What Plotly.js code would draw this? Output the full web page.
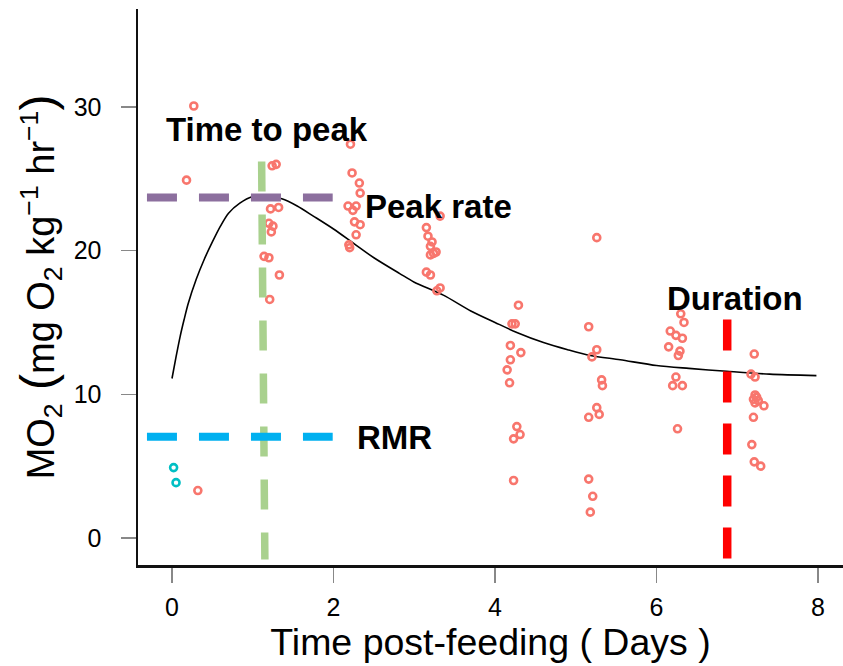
<!DOCTYPE html>
<html>
<head>
<meta charset="utf-8">
<script src="https://cdn.plot.ly/plotly-3.0.1.min.js"></script>
<style>html,body{margin:0;padding:0;background:#fff;}#chart{width:843px;height:666px;}</style>
</head>
<body>
<div id="chart"></div>
<script>
// Fed individuals (salmon points)
const fedX = [0.32, 0.27, 0.18,
  1.24, 1.29, 1.22, 1.32, 1.20, 1.25, 1.23, 1.14, 1.20, 1.33, 1.21,
  2.21, 2.23, 2.32, 2.33, 2.18, 2.28, 2.24, 2.26, 2.33, 2.28, 2.19, 2.20,
  3.32, 3.15, 3.17, 3.22, 3.20, 3.27, 3.20, 3.24, 3.15, 3.20, 3.32, 3.28,
  4.29, 4.21, 4.25, 4.19, 4.32, 4.19, 4.15, 4.18, 4.27, 4.31, 4.23, 4.23,
  5.26, 5.16, 5.26, 5.20, 5.32, 5.33, 5.26, 5.29, 5.16, 5.16, 5.21, 5.18,
  6.30, 6.34, 6.17, 6.24, 6.32, 6.15, 6.29, 6.27, 6.24, 6.20, 6.32, 6.26,
  7.21, 7.17, 7.22, 7.22, 7.24, 7.20, 7.26, 7.22, 7.33, 7.20, 7.18, 7.21, 7.29];
const fedY = [3.3, 30.06, 24.9,
  25.9, 26.0, 22.9, 23.0, 21.9, 21.7, 21.3, 19.6, 19.5, 18.3, 16.6,
  27.4, 25.4, 24.7, 24.0, 23.1, 23.1, 22.8, 22.0, 21.8, 21.1, 20.4, 20.2,
  22.4, 21.6, 21.0, 20.6, 20.3, 19.9, 19.7, 19.8, 18.5, 18.3, 17.4, 17.2,
  16.2, 14.9, 14.9, 13.4, 12.9, 12.4, 11.7, 10.8, 7.75, 7.2, 6.9, 4.0,
  20.9, 14.7, 13.1, 12.6, 11.0, 10.6, 9.07, 8.6, 8.4, 4.1, 2.9, 1.8,
  15.6, 15.0, 14.4, 14.1, 13.9, 13.3, 13.0, 12.7, 11.2, 10.6, 10.6, 7.6,
  12.8, 11.4, 11.2, 9.95, 9.8, 9.65, 9.55, 9.4, 9.2, 8.4, 6.5, 5.3, 5.0];
// Unfed / baseline points (teal)
const baseX = [0.02, 0.05];
const baseY = [4.9, 3.85];
// Fitted SDA curve
const curveX = [0, 0.05, 0.1, 0.15, 0.2, 0.3, 0.4, 0.5, 0.6, 0.7, 0.84, 0.99, 1.15, 1.36, 1.55, 1.75, 2.0, 2.25, 2.5, 2.82, 3.0, 3.36, 3.7, 4.0, 4.27, 4.6, 4.9, 5.18, 5.55, 6.0, 6.4, 6.87, 7.4, 7.98];
const curveY = [11.1, 12.6, 14.0, 15.2, 16.3, 18.0, 19.4, 20.6, 21.7, 22.6, 23.3, 23.75, 23.8, 23.6, 23.1, 22.4, 21.5, 20.5, 19.5, 18.4, 17.8, 16.9, 15.8, 15.0, 14.3, 13.6, 13.1, 12.7, 12.4, 12.0, 11.8, 11.6, 11.4, 11.3];
// Reference values
const peakRate = 23.7;
const rmr = 7.05;
const timeToPeakTop = 1.11;
const timeToPeakBottom = 1.15;
const duration = 6.875;
const hLineStart = -0.31, hLineEnd = 1.99;
const ttpTopY = 26.2, vLineBottomY = -1.5;
const durTopY = 15.2;
const xTicks = [0, 2, 4, 6, 8];
const yTicks = [0, 10, 20, 30];

const FONT = "Liberation Sans, Arial, sans-serif";

const traces = [
  {x: curveX, y: curveY, type: 'scatter', mode: 'lines', line: {color: '#000', width: 1.6, shape: 'spline', smoothing: 0.8}, hoverinfo: 'skip'},
  {x: fedX, y: fedY, type: 'scatter', mode: 'markers', marker: {symbol: 'circle-open', size: 7, color: '#F8766D', line: {color: '#F8766D', width: 2.6}}},
  {x: baseX, y: baseY, type: 'scatter', mode: 'markers', marker: {symbol: 'circle-open', size: 7, color: '#00BFC4', line: {color: '#00BFC4', width: 2.6}}}
];

const shapes = [
  {type: 'line', xref: 'x', yref: 'y', x0: timeToPeakTop, x1: timeToPeakBottom, y0: ttpTopY, y1: vLineBottomY, line: {color: '#A9D18E', width: 7.5, dash: '30px,23px'}},
  {type: 'line', xref: 'x', yref: 'y', x0: hLineStart, x1: hLineEnd, y0: peakRate, y1: peakRate, line: {color: '#8C6F9E', width: 8, dash: '30px,22px'}},
  {type: 'line', xref: 'x', yref: 'y', x0: hLineStart, x1: hLineEnd, y0: rmr, y1: rmr, line: {color: '#00B0F0', width: 8, dash: '30px,22px'}},
  {type: 'line', xref: 'x', yref: 'y', x0: duration, x1: duration, y0: durTopY, y1: vLineBottomY, line: {color: '#FF0000', width: 8.5, dash: '31px,21px'}}
];

const annFont = {family: FONT, size: 33, color: '#000', weight: 'bold'};
const annotations = [
  {x: 1.18, y: 28.4, xref: 'x', yref: 'y', text: '<b>Time to peak</b>', showarrow: false, xanchor: 'center', yanchor: 'middle', font: annFont},
  {x: 2.36, y: 23.1, xref: 'x', yref: 'y', text: '<b>Peak rate</b>', showarrow: false, xanchor: 'left', yanchor: 'middle', font: annFont},
  {x: 2.27, y: 7.0, xref: 'x', yref: 'y', text: '<b>RMR</b>', showarrow: false, xanchor: 'left', yanchor: 'middle', font: annFont},
  {x: 6.97, y: 16.7, xref: 'x', yref: 'y', text: '<b>Duration</b>', showarrow: false, xanchor: 'center', yanchor: 'middle', font: annFont}
];

const layout = {
  width: 843, height: 666,
  margin: {l: 138, r: 0, t: 9, b: 101},
  paper_bgcolor: '#fff', plot_bgcolor: '#fff',
  showlegend: false,
  font: {family: FONT, color: '#000'},
  xaxis: {
    range: [-0.421, 8.309], tickvals: xTicks, ticktext: xTicks.map(String),
    showgrid: false, zeroline: false, showline: true, linecolor: '#111', linewidth: 2.5, mirror: false,
    ticks: 'outside', ticklen: 15, tickwidth: 1.5, tickcolor: '#888',
    tickfont: {family: FONT, size: 25, color: '#000'}, ticklabelstandoff: 3,
    title: {text: 'Time post-feeding ( Days )', font: {family: FONT, size: 37.5, color: '#000'}, standoff: 5},
    automargin: false, fixedrange: true
  },
  yaxis: {
    range: [-1.879, 36.81], tickvals: yTicks, ticktext: yTicks.map(String),
    showgrid: false, zeroline: false, showline: true, linecolor: '#111', linewidth: 2.5, mirror: false,
    ticks: 'outside', ticklen: 15, tickwidth: 1.5, tickcolor: '#888',
    tickfont: {family: FONT, size: 25, color: '#000'}, ticklabelstandoff: 14,
    title: {text: 'MO<sub>2</sub><span style="font-size:48px"> (</span>mg O<sub>2</sub> kg<sup>−1</sup> hr<sup>−1</sup><span style="font-size:48px">)</span>', font: {family: FONT, size: 38, color: '#000'}, standoff: 8},
    automargin: false, fixedrange: true
  },
  shapes: shapes,
  annotations: annotations
};

Plotly.newPlot('chart', traces, layout, {displayModeBar: false, staticPlot: true});
</script>
</body>
</html>
